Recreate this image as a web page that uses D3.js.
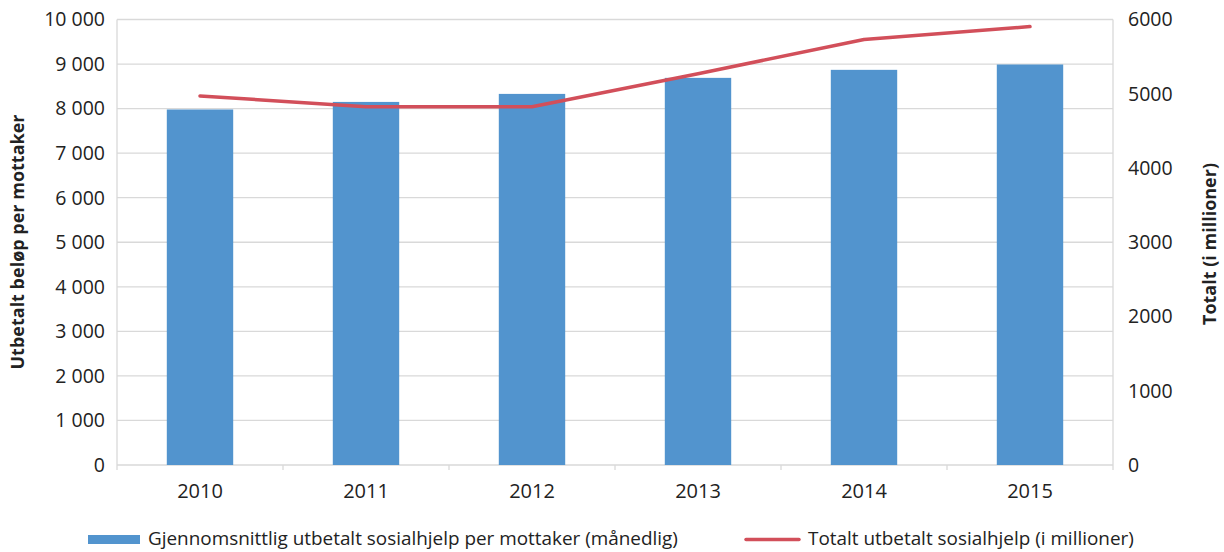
<!DOCTYPE html>
<html><head><meta charset="utf-8">
<script src="https://cdn.jsdelivr.net/npm/d3@7"></script>
<style>body{margin:0;background:#fff;} text{font-family:"Open Sans",sans-serif;fill:#222;}</style>
</head><body>
<svg id="c" width="1224" height="552"></svg>
<script>
const years = ["2010","2011","2012","2013","2014","2015"];
const avgPerRecipient = [7980, 8150, 8330, 8690, 8870, 8990];
const totalMillions = [4970, 4825, 4825, 5270, 5730, 5905];
const leftTicks = [0,1000,2000,3000,4000,5000,6000,7000,8000,9000,10000];
const rightTicks = [0,1000,2000,3000,4000,5000,6000];
const seriesNames = ["Gjennomsnittlig utbetalt sosialhjelp per mottaker (månedlig)", "Totalt utbetalt sosialhjelp (i millioner)"];

const svg = d3.select("#c");
const L=117, R=1113, T=19.5, B=465;
const x = d3.scaleBand().domain(years).range([L,R]).paddingInner(0.6).paddingOuter(0.3);
const xc = d3.scaleBand().domain(years).range([L,R]);
const yL = d3.scaleLinear().domain([0,10000]).range([B,T]);
const yR = d3.scaleLinear().domain([0,6000]).range([B,T]);
const grid="#d9d9d9";

svg.append("g").selectAll("line").data(leftTicks).join("line")
  .attr("x1",L).attr("x2",R).attr("y1",d=>yL(d)).attr("y2",d=>yL(d))
  .attr("stroke",grid).attr("stroke-width",1.3);
svg.append("line").attr("x1",L).attr("x2",L).attr("y1",T).attr("y2",B).attr("stroke",grid).attr("stroke-width",1.3);
svg.append("line").attr("x1",R).attr("x2",R).attr("y1",T).attr("y2",B).attr("stroke",grid).attr("stroke-width",1.3);
const bounds = years.map(d=>xc(d)).concat([R]);
svg.append("g").selectAll("line").data(bounds).join("line")
  .attr("x1",d=>d).attr("x2",d=>d).attr("y1",B).attr("y2",B+5).attr("stroke",grid).attr("stroke-width",1.3);

svg.append("g").selectAll("rect").data(years).join("rect")
  .attr("x",d=>x(d)).attr("width",x.bandwidth())
  .attr("y",(d,i)=>yL(avgPerRecipient[i])).attr("height",(d,i)=>B-yL(avgPerRecipient[i]))
  .attr("fill","#5294ce");

const line = d3.line().x((d,i)=>xc(years[i])+xc.bandwidth()/2).y(d=>yR(d));
svg.append("path").datum(totalMillions).attr("d",line).attr("fill","none")
  .attr("stroke","#d24f5a").attr("stroke-width",3.5).attr("stroke-linecap","round").attr("stroke-linejoin","round");

const fmtL = d => { const s = String(d); return s.length>3 ? s.slice(0,s.length-3)+" "+s.slice(-3) : s; };
svg.append("g").selectAll("text").data(leftTicks).join("text")
  .attr("x",105).attr("y",d=>yL(d)).attr("dy","0.35em").attr("text-anchor","end")
  .attr("font-size",19.5).text(fmtL);
svg.append("g").selectAll("text").data(rightTicks).join("text")
  .attr("x",1128).attr("y",d=>yR(d)).attr("dy","0.35em").attr("text-anchor","start")
  .attr("font-size",19.5).text(d=>String(d));
svg.append("g").selectAll("text").data(years).join("text")
  .attr("x",d=>xc(d)+xc.bandwidth()/2).attr("y",498).attr("text-anchor","middle")
  .attr("font-size",20).text(d=>d);

svg.append("text").attr("transform","translate(24,242) rotate(-90)").attr("text-anchor","middle")
  .attr("font-size",18).attr("font-weight","bold").text("Utbetalt beløp per mottaker");
svg.append("text").attr("transform","translate(1216,244) rotate(-90)").attr("text-anchor","middle")
  .attr("font-size",18).attr("font-weight","bold").text("Totalt (i millioner)");

svg.append("rect").attr("x",88).attr("y",535).attr("width",52).attr("height",9).attr("fill","#5294ce");
svg.append("text").attr("x",148).attr("y",545).attr("font-size",18.9).text(seriesNames[0]);
svg.append("line").attr("x1",746).attr("x2",799).attr("y1",539.5).attr("y2",539.5).attr("stroke","#d24f5a").attr("stroke-width",3.5).attr("stroke-linecap","round");
svg.append("text").attr("x",808).attr("y",545).attr("font-size",18.9).text(seriesNames[1]);
</script>
</body></html>
